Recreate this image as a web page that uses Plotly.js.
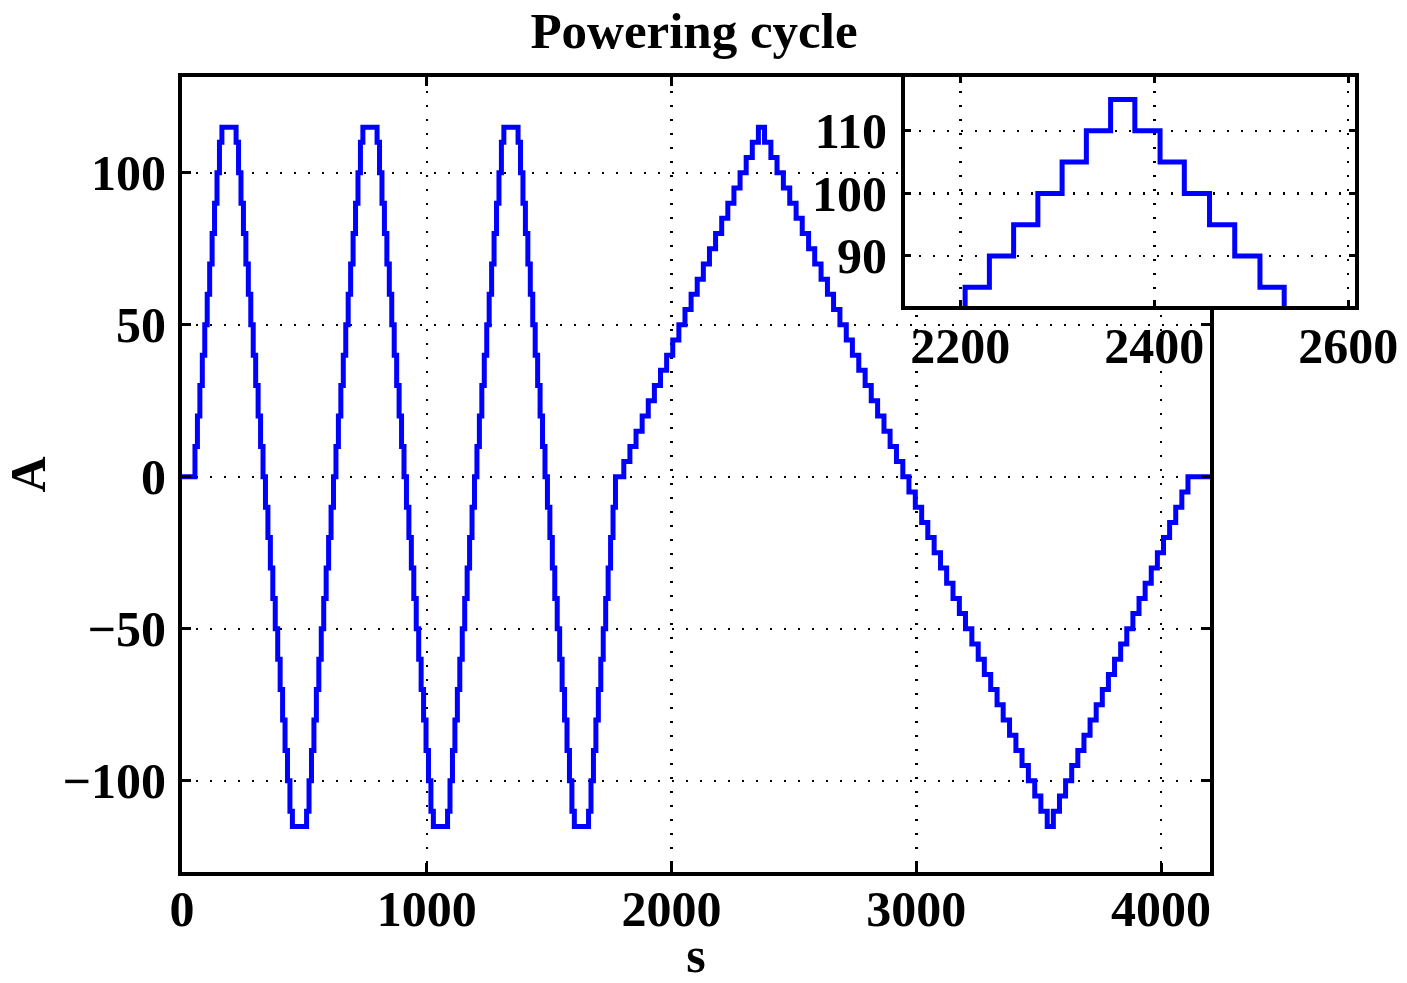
<!DOCTYPE html>
<html>
<head>
<meta charset="utf-8">
<script src="https://cdn.plot.ly/plotly-3.0.1.min.js"></script>
<style>html,body{margin:0;padding:0;background:#fff;}</style>
</head>
<body>
<div id="chart" style="width:1407px;height:983px;"></div>
<script>
// ---- data (time in s, current in A) ----
const startT = [0];
const startA = [0];

const rise1T = [53, 63, 73, 83, 93, 103, 113, 123, 133, 143, 153, 163];
const rise1A = [10, 20, 30, 40, 50, 60, 70, 80, 90, 100, 110, 115];

const fall1T = [221, 231, 241, 251, 261, 271, 281, 291, 301, 311, 321, 331, 341, 351, 361, 371, 381, 391, 401, 411, 421, 431, 441, 451];
const fall1A = [110, 100, 90, 80, 70, 60, 50, 40, 30, 20, 10, 0, -10, -20, -30, -40, -50, -60, -70, -80, -90, -100, -110, -115];

const rise2T = [509, 519, 529, 539, 549, 559, 569, 579, 589, 599, 609, 619, 629, 639, 649, 659, 669, 679, 689, 699, 709, 719, 729, 739];
const rise2A = [-110, -100, -90, -80, -70, -60, -50, -40, -30, -20, -10, 0, 10, 20, 30, 40, 50, 60, 70, 80, 90, 100, 110, 115];

const fall2T = [797, 807, 817, 827, 837, 847, 857, 867, 877, 887, 897, 907, 917, 927, 937, 947, 957, 967, 977, 987, 997, 1007, 1017, 1027];
const fall2A = [110, 100, 90, 80, 70, 60, 50, 40, 30, 20, 10, 0, -10, -20, -30, -40, -50, -60, -70, -80, -90, -100, -110, -115];

const rise3T = [1085, 1095, 1105, 1115, 1125, 1135, 1145, 1155, 1165, 1175, 1185, 1195, 1205, 1215, 1225, 1235, 1245, 1255, 1265, 1275, 1285, 1295, 1305, 1315];
const rise3A = [-110, -100, -90, -80, -70, -60, -50, -40, -30, -20, -10, 0, 10, 20, 30, 40, 50, 60, 70, 80, 90, 100, 110, 115];

const fall3T = [1373, 1383, 1393, 1403, 1413, 1423, 1433, 1443, 1453, 1463, 1473, 1483, 1493, 1503, 1513, 1523, 1533, 1543, 1553, 1563, 1573, 1583, 1593, 1603];
const fall3A = [110, 100, 90, 80, 70, 60, 50, 40, 30, 20, 10, 0, -10, -20, -30, -40, -50, -60, -70, -80, -90, -100, -110, -115];

const rise4T = [1661, 1671, 1681, 1691, 1701, 1711, 1721, 1731, 1741, 1751, 1761, 1771];
const rise4A = [-110, -100, -90, -80, -70, -60, -50, -40, -30, -20, -10, 0];

const slowUpT = [1805, 1830, 1855, 1880, 1905, 1930, 1955, 1980, 2005, 2030, 2055, 2080, 2105, 2130, 2155, 2180, 2205, 2230, 2255, 2280, 2305, 2330, 2355];
const slowUpA = [5, 10, 15, 20, 25, 30, 35, 40, 45, 50, 55, 60, 65, 70, 75, 80, 85, 90, 95, 100, 105, 110, 115];

const slowDownT = [2380, 2406, 2431, 2457, 2483, 2509, 2534, 2560, 2585, 2611, 2637, 2662, 2688, 2714, 2739, 2765, 2791, 2816, 2842, 2868, 2893, 2919, 2945, 2970, 2996, 3022, 3047, 3073, 3099, 3124, 3150, 3176, 3201, 3227, 3253, 3278, 3304, 3330, 3355, 3381, 3407, 3432, 3458, 3484, 3509, 3535];
const slowDownA = [110, 105, 100, 95, 90, 85, 80, 75, 70, 65, 60, 55, 50, 45, 40, 35, 30, 25, 20, 15, 10, 5, 0, -5, -10, -15, -20, -25, -30, -35, -40, -45, -50, -55, -60, -65, -70, -75, -80, -85, -90, -95, -100, -105, -110, -115];

const slowBackT = [3560, 3585, 3610, 3635, 3660, 3685, 3710, 3735, 3760, 3785, 3810, 3835, 3860, 3885, 3910, 3935, 3960, 3985, 4010, 4035, 4060, 4085, 4110];
const slowBackA = [-110, -105, -100, -95, -90, -85, -80, -75, -70, -65, -60, -55, -50, -45, -40, -35, -30, -25, -20, -15, -10, -5, 0];

const endT = [4200];
const endA = [0];

const xTicks = [0, 1000, 2000, 3000, 4000];
const yTicks = [-100, -50, 0, 50, 100];
const insetXTicks = [2200, 2400, 2600];
const insetYTicks = [90, 100, 110];

const titleText = 'Powering cycle';
const xLabel = 's';
const yLabel = 'A';

// ---- build the series ----
const t = [].concat(startT, rise1T, fall1T, rise2T, fall2T, rise3T, fall3T, rise4T, slowUpT, slowDownT, slowBackT, endT);
const a = [].concat(startA, rise1A, fall1A, rise2A, fall2A, rise3A, fall3A, rise4A, slowUpA, slowDownA, slowBackA, endA);

const FONT = '"Liberation Serif", "Times New Roman", Times, serif';
const lineStyle = {color: '#0000ff', width: 5, shape: 'hv'};

const traces = [
  {x: t, y: a, type: 'scatter', mode: 'lines', line: lineStyle, xaxis: 'x', yaxis: 'y', hoverinfo: 'skip'},
  {x: t, y: a, type: 'scatter', mode: 'lines', line: lineStyle, xaxis: 'x2', yaxis: 'y2', hoverinfo: 'skip'}
];

const axisCommon = {
  showline: true, linewidth: 4, linecolor: 'black', mirror: 'ticks',
  ticks: 'inside', tickcolor: 'black', tickwidth: 3, ticklen: 9,
  showgrid: true, gridcolor: 'black', gridwidth: 2.5, griddash: '2px,12px',
  zeroline: false, fixedrange: true,
  tickfont: {family: FONT, size: 50, color: 'black', weight: 700}
};

const plotW = 1407 - 182 - 52;   // 1173
const plotH = 983 - 77 - 111;    // 795

const layout = {
  width: 1407, height: 983,
  margin: {l: 182, r: 52, t: 77, b: 111, pad: 0},
  paper_bgcolor: 'white', plot_bgcolor: 'white',
  showlegend: false,
  font: {family: FONT, size: 50, color: 'black', weight: 700},
  title: {
    text: titleText, font: {family: FONT, size: 51, color: 'black', weight: 700},
    xref: 'container', x: 694 / 1407, xanchor: 'center',
    yref: 'container', y: 1 - 30 / 983, yanchor: 'middle'
  },
  xaxis: Object.assign({}, axisCommon, {
    domain: [0, 1028 / plotW], range: [0, 4200], tickvals: xTicks,
    ticklabelstandoff: -10,
    title: {text: xLabel, font: {family: FONT, size: 50, color: 'black', weight: 700}, standoff: 38}
  }),
  yaxis: Object.assign({}, axisCommon, {
    domain: [0, 1], range: [-130, 131.5], tickvals: yTicks,
    ticklabelstandoff: 2,
    title: {text: yLabel, font: {family: FONT, size: 50, color: 'black', weight: 700}, standoff: 16}
  }),
  xaxis2: Object.assign({}, axisCommon, {
    anchor: 'y2', domain: [(905 - 182) / plotW, 1], range: [2143, 2607],
    tickvals: insetXTicks, ticklen: 6, ticklabelstandoff: -7
  }),
  yaxis2: Object.assign({}, axisCommon, {
    anchor: 'x2', domain: [(872 - 306) / plotH, 1], range: [82, 118.6],
    tickvals: insetYTicks, ticklen: 6, ticklabelstandoff: 4
  })
};

Plotly.newPlot('chart', traces, layout, {staticPlot: true, displayModeBar: false});
</script>
</body>
</html>
